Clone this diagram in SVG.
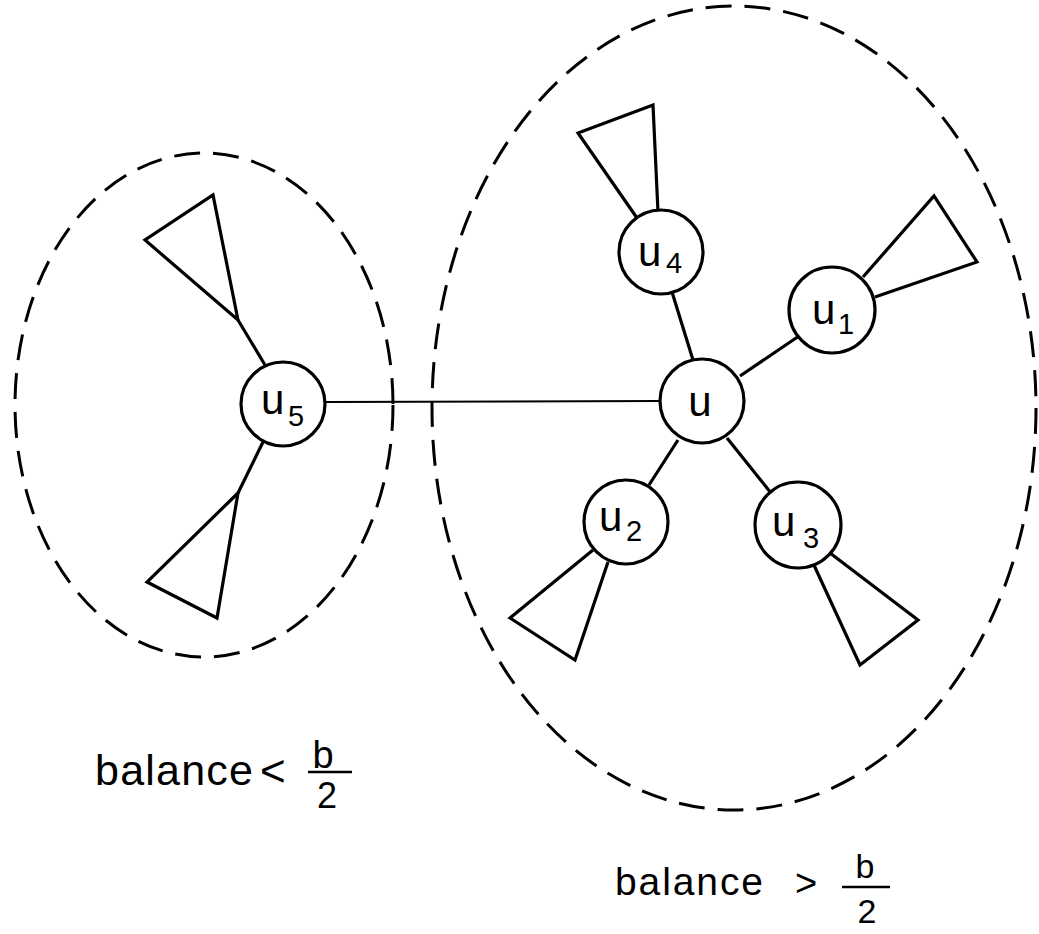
<svg xmlns="http://www.w3.org/2000/svg" width="1039" height="934" viewBox="0 0 1039 934">
<style>
.bg{fill:#fff}
.reg{fill:none;stroke:#000;stroke-width:3;stroke-dasharray:26 13}
.edge{fill:none;stroke:#000;stroke-width:3.2;stroke-linejoin:miter}
.thin{fill:none;stroke:#000;stroke-width:2}
.node{fill:#fff;stroke:#000;stroke-width:3.2}
.lbl{font-family:"Liberation Sans",Arial,sans-serif;font-size:42px;fill:#000}
.sub{font-family:"Liberation Sans",Arial,sans-serif;font-size:29px;fill:#000}
.bal{font-family:"Liberation Sans",Arial,sans-serif;fill:#000}
</style>
<rect class="bg" x="0" y="0" width="1039" height="934"/>
<g id="regions">
<ellipse class="reg" cx="204" cy="405" rx="189" ry="252"/>
<ellipse class="reg" cx="734" cy="408" rx="302" ry="402"/>
</g>
<g id="connectors">
<line class="thin" x1="326" y1="402" x2="660" y2="401"/>
<line class="edge" x1="693" y1="360" x2="672" y2="292"/>
<line class="edge" x1="740" y1="376" x2="799" y2="336"/>
<line class="edge" x1="678" y1="440" x2="649" y2="485"/>
<line class="edge" x1="727" y1="438" x2="771" y2="493"/>
<line class="edge" x1="238" y1="320" x2="265" y2="365"/>
<line class="edge" x1="238" y1="493" x2="263" y2="442"/>
</g>
<g id="subtrees">
<polygon class="edge" points="238,320 213,195 145,240"/>
<polygon class="edge" points="238,493 147,582 217,618"/>
<polyline class="edge" points="637,218 578,133 653,105 658,212"/>
<polyline class="edge" points="863,277 934,196 977,262 875,297"/>
<polyline class="edge" points="593,550 510,618 575,660 608,562"/>
<polyline class="edge" points="813,563 860,665 918,620 830,553"/>
</g>
<g id="node-u5">
<circle class="node" cx="283" cy="404" r="42"/>
<text><tspan class="lbl" x="261" y="414">u</tspan><tspan class="sub" x="288" y="426">5</tspan></text>
</g>
<g id="node-u">
<circle class="node" cx="702" cy="401" r="42"/>
<text class="lbl" x="700" y="416" text-anchor="middle">u</text>
</g>
<g id="node-u4">
<circle class="node" cx="661" cy="252" r="42"/>
<text><tspan class="lbl" x="638" y="266">u</tspan><tspan class="sub" x="666" y="273">4</tspan></text>
</g>
<g id="node-u1">
<circle class="node" cx="832" cy="310" r="43"/>
<text><tspan class="lbl" x="812" y="324">u</tspan><tspan class="sub" x="838" y="334">1</tspan></text>
</g>
<g id="node-u2">
<circle class="node" cx="626" cy="522" r="42"/>
<text><tspan class="lbl" x="599" y="531">u</tspan><tspan class="sub" x="626" y="541">2</tspan></text>
</g>
<g id="node-u3">
<circle class="node" cx="798" cy="525" r="43"/>
<text><tspan class="lbl" x="772" y="536">u</tspan><tspan class="sub" x="803" y="548">3</tspan></text>
</g>
<g id="label-left">
<text class="bal" x="95" y="785" font-size="43" textLength="158" lengthAdjust="spacing">balance</text>
<text class="bal" x="260" y="786" font-size="44">&lt;</text>
<text class="bal" x="323" y="768" font-size="38" text-anchor="middle">b</text>
<line x1="308" y1="772" x2="352" y2="772" stroke="#000" stroke-width="2.5"/>
<text class="bal" x="327" y="808" font-size="36" text-anchor="middle">2</text>
</g>
<g id="label-right">
<text class="bal" x="615" y="895" font-size="39" textLength="148" lengthAdjust="spacing">balance</text>
<text class="bal" x="795" y="896" font-size="38">&gt;</text>
<text class="bal" x="865" y="878" font-size="34" text-anchor="middle">b</text>
<line x1="842" y1="887" x2="890" y2="887" stroke="#000" stroke-width="2.5"/>
<text class="bal" x="867" y="923" font-size="34" text-anchor="middle">2</text>
</g>
</svg>
